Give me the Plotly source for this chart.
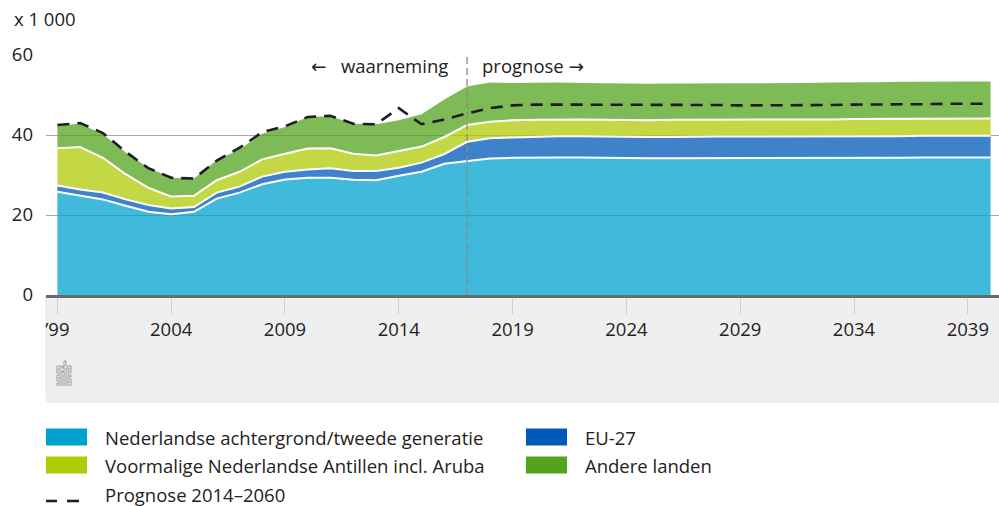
import plotly.graph_objects as go

# ---------------- data (x 1 000) ----------------
years = list(range(1999, 2041))

nl_achtergrond = [25.8, 24.8, 23.9, 22.3, 20.8, 20.2, 20.8, 24.1, 25.6, 27.7,
                  28.9, 29.3, 29.3, 28.8, 28.7, 29.8, 30.8, 32.8, 33.5, 34.1,
                  34.3, 34.4, 34.4, 34.4, 34.3, 34.2, 34.2, 34.2, 34.2, 34.2,
                  34.2, 34.2, 34.2, 34.2, 34.2, 34.3, 34.3, 34.3, 34.4, 34.4,
                  34.4, 34.4]
eu27 = [1.6, 1.6, 1.7, 1.6, 1.7, 1.4, 1.2, 1.5, 1.5, 1.9,
        1.9, 2.1, 2.4, 2.2, 2.3, 2.0, 2.3, 2.4, 4.8, 5.1,
        5.1, 5.2, 5.3, 5.3, 5.3, 5.3, 5.3, 5.3, 5.4, 5.4,
        5.4, 5.4, 5.4, 5.4, 5.4, 5.4, 5.4, 5.4, 5.4, 5.4,
        5.4, 5.4]
antillen = [9.3, 10.6, 8.7, 6.3, 4.3, 3.0, 2.8, 3.1, 3.7, 4.3,
            4.5, 5.2, 5.0, 4.3, 3.9, 4.2, 4.0, 4.3, 4.2, 4.1,
            4.3, 4.2, 4.2, 4.2, 4.2, 4.2, 4.2, 4.3, 4.2, 4.3,
            4.3, 4.3, 4.3, 4.3, 4.3, 4.3, 4.3, 4.3, 4.3, 4.3,
            4.3, 4.3]
andere = [5.6, 5.8, 5.9, 5.4, 5.0, 4.7, 4.3, 5.0, 5.6, 6.4,
          6.7, 7.9, 8.0, 7.5, 7.8, 7.7, 8.1, 9.4, 9.6, 9.8,
          9.3, 9.3, 9.2, 9.1, 9.1, 9.1, 9.1, 9.1, 9.1, 9.1,
          9.0, 9.0, 9.1, 9.1, 9.2, 9.1, 9.2, 9.3, 9.2, 9.3,
          9.3, 9.3]
prognose_2014 = [42.5, 43.0, 40.5, 35.8, 31.7, 29.3, 29.1, 33.6, 36.8, 40.7,
                 42.2, 44.5, 44.8, 42.8, 42.7, 46.7, 42.7, 43.9, 45.4, 46.7,
                 47.4, 47.6, 47.6, 47.6, 47.6, 47.6, 47.6, 47.5, 47.5, 47.5,
                 47.4, 47.4, 47.5, 47.5, 47.5, 47.6, 47.6, 47.7, 47.7, 47.8,
                 47.8, 47.8]

tick_years = [1999, 2004, 2009, 2014, 2019, 2024, 2029, 2034, 2039]
tick_labels = ["’99", "2004", "2009", "2014", "2019", "2024", "2029", "2034", "2039"]
y_ticks = [0, 20, 40, 60]
split_year = 2017

series_names = ["Nederlandse achtergrond/tweede generatie", "EU-27",
                "Voormalige Nederlandse Antillen incl. Aruba", "Andere landen"]
series_values = [nl_achtergrond, eu27, antillen, andere]
legend_colors = ["#00a1cd", "#0058b8", "#afcb05", "#53a31d"]
fill_colors = ["rgba(0,161,205,0.75)", "rgba(0,88,184,0.75)",
               "rgba(175,203,5,0.75)", "rgba(83,163,29,0.75)"]

FONT = "Open Sans"
TXT = "#222222"
FS = 18.5

fig = go.Figure()
for i, (name, vals) in enumerate(zip(series_names, series_values)):
    fig.add_trace(go.Scatter(
        x=years, y=vals, name=name, stackgroup="one", mode="lines",
        fillcolor=fill_colors[i],
        line=dict(color="white", width=2 if i < 3 else 0),
        showlegend=False, hoverinfo="x+y+name"))

fig.add_trace(go.Scatter(
    x=years, y=prognose_2014, name="Prognose 2014-2060", mode="lines",
    line=dict(color="#1e1e1e", width=2.6, dash="12px,8px"),
    showlegend=False))

# pixel -> paper helpers (layout geometry)
L, R, T, B = 46, 999, 55, 295
W, H = R - L, B - T


def pxx(x):
    return (x - L) / W


def pxy(y):
    return (B - y) / H


shapes = []
# grey footer box with rounded bottom-left corner
shapes.append(dict(
    type="path", xref="paper", yref="paper", layer="below",
    path=(f"M {pxx(45)},{pxy(296)} L {pxx(1000)},{pxy(296)} L {pxx(1000)},{pxy(403)} "
          f"L {pxx(51)},{pxy(403)} Q {pxx(45)},{pxy(403)} {pxx(45)},{pxy(397)} Z"),
    fillcolor="#efefef", line=dict(width=0)))

# cbs logo (outline)
logo_paths = [
    [(63, 366), (57, 366), (57, 373), (63, 373), (63, 371), (59, 371), (59, 368), (63, 368)],
    [(64, 361), (66, 361), (66, 366), (71, 366), (71, 373), (64, 373)],
    [(66, 368), (69, 368), (69, 371), (66, 371)],
    [(57, 375), (71, 375), (71, 377), (59, 377), (59, 379), (71, 379), (71, 385),
     (57, 385), (57, 383), (69, 383), (69, 381), (57, 381)],
]
for pts in logo_paths:
    p = "M " + " L ".join(f"{pxx(x)},{pxy(y)}" for x, y in pts) + " Z"
    shapes.append(dict(type="path", xref="paper", yref="paper", path=p,
                       line=dict(color="#9a9a9a", width=1), fillcolor="rgba(0,0,0,0)"))

# vertical observation/forecast divider
shapes.append(dict(type="line", xref="x", yref="y", x0=split_year, x1=split_year,
                   y0=0, y1=60, layer="above",
                   line=dict(color="#8a8a8a", width=1.3, dash="7px,4px")))

# legend (manual)
leg_items = [
    (0, 46, 437), (1, 526, 437), (2, 46, 465), (3, 526, 465)
]
annotations = []
for idx, x0, yc in leg_items:
    shapes.append(dict(type="rect", xref="paper", yref="paper",
                       x0=pxx(x0), x1=pxx(x0 + 41), y0=pxy(yc - 8.5), y1=pxy(yc + 8.5),
                       fillcolor=legend_colors[idx], line=dict(width=0)))
    annotations.append(dict(xref="paper", yref="paper", x=pxx(x0 + 57), y=pxy(yc),
                            text=series_names[idx], showarrow=False,
                            xanchor="left", yanchor="middle",
                            font=dict(family=FONT, size=FS, color=TXT)))
for xa, xb in [(46, 57), (67, 79)]:
    shapes.append(dict(type="line", xref="paper", yref="paper",
                       x0=pxx(xa), x1=pxx(xb), y0=pxy(501), y1=pxy(501),
                       line=dict(color="#1e1e1e", width=2.6)))
annotations.append(dict(xref="paper", yref="paper", x=pxx(103), y=pxy(494),
                        text="Prognose 2014–2060", showarrow=False,
                        xanchor="left", yanchor="middle",
                        font=dict(family=FONT, size=FS, color=TXT)))

# texts in chart
ARROW = "<span style='font-family:DejaVu Sans'>{}</span>"
annotations.append(dict(xref="paper", yref="paper", x=pxx(12), y=pxy(18),
                        text="x 1 000", showarrow=False, xanchor="left", yanchor="middle",
                        font=dict(family=FONT, size=FS, color=TXT)))
annotations.append(dict(xref="paper", yref="paper", x=pxx(450), y=pxy(66),
                        text=ARROW.format("←") + "   waarneming", showarrow=False,
                        xanchor="right", yanchor="middle",
                        font=dict(family=FONT, size=FS, color=TXT)))
annotations.append(dict(xref="paper", yref="paper", x=pxx(480), y=pxy(66),
                        text="prognose " + ARROW.format("→"), showarrow=False,
                        xanchor="left", yanchor="middle",
                        font=dict(family=FONT, size=FS, color=TXT)))

fig.update_layout(
    width=999, height=506,
    margin=dict(l=L, r=1000 - R - 1, t=T, b=506 - B),
    paper_bgcolor="white", plot_bgcolor="white",
    shapes=shapes, annotations=annotations,
    font=dict(family=FONT, size=FS, color=TXT),
    xaxis=dict(range=[1998.5, 2040.37], tickvals=tick_years, ticktext=tick_labels,
               showgrid=False, zeroline=False, showline=True, linecolor="#6b6b6b",
               linewidth=3, ticks="outside", ticklen=16, tickcolor="#cfcfcf",
               tickwidth=1, ticklabelstandoff=0,
               tickfont=dict(family=FONT, size=FS, color=TXT)),
    yaxis=dict(range=[0, 60], tickvals=y_ticks, showgrid=True, gridcolor="#a8a8a8",
               gridwidth=1, zeroline=False, showline=False, ticks="",
               ticklabelstandoff=12, tickfont=dict(family=FONT, size=FS, color=TXT)),
)

fig.write_html("out.html", config={"displayModeBar": False},
               post_script="document.body.style.margin='0';document.body.style.overflow='hidden';")
